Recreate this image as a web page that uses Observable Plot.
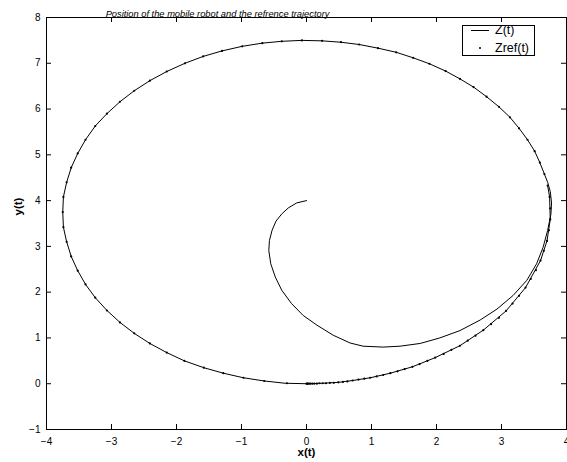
<!DOCTYPE html>
<html><head><meta charset="utf-8">
<script src="https://cdn.jsdelivr.net/npm/d3@7"></script>
<script src="https://cdn.jsdelivr.net/npm/@observablehq/plot@0.6"></script>
<style>
body{margin:0;background:#fff;}
#wrap{position:relative;width:567px;height:462px;font-family:"Liberation Sans",Arial,Helvetica,sans-serif;}
#legend{position:absolute;left:462px;top:25px;width:71px;height:29px;border:1px solid #000;background:#fff;font-size:12.5px;color:#000;}
#legend .txt{position:absolute;left:32px;line-height:14px;white-space:nowrap;}
#legend .ln{position:absolute;left:8px;width:18px;height:1px;background:#000;}
#legend .dt{position:absolute;width:2px;height:2px;border-radius:1px;background:#000;}
</style></head><body><div id="wrap"></div>
<script>
const titleText = "Position of the mobile robot and the refrence trajectory";
const xLabel = "x(t)";
const yLabel = "y(t)";
const legendLabels = ["Z(t)", "Zref(t)"];
const xTicks = [-4, -3, -2, -1, 0, 1, 2, 3, 4];
const yTicks = [-1, 0, 1, 2, 3, 4, 5, 6, 7, 8];

// Z(t): robot position
const robotX = [0.00,-0.15,-0.28,-0.38,-0.47,-0.53,-0.57,-0.58,-0.55,-0.48,-0.38,-0.23,-0.05,0.16,0.41,0.67,0.87,1.18,1.44,1.75,2.05,2.36,2.67,2.93,3.18,3.39,3.54,3.64,3.71,3.76,3.77,3.75,3.71,
  3.66,3.59,3.51,3.40,3.27,3.13,2.96,2.77,2.57,2.36,2.14,1.89,1.64,1.38,1.10,0.81,0.53,0.24,-0.07,-0.38,-0.68,-0.99,-1.30,-1.59,-1.87,-2.15,-2.41,-2.65,-2.87,-3.07,-3.25,-3.40,-3.52,-3.62,-3.69,-3.74,-3.75,-3.74,-3.69,-3.62,-3.52,-3.40,-3.25,-3.07,-2.87,-2.65,-2.41,-2.15,-1.88,-1.58,-1.28,-0.97,-0.65,-0.33,0.00,
  0.25,0.49,0.71,0.98,1.29,1.63,1.98,2.36,2.72,3.07,3.37,3.60,3.70,3.75,3.74,3.71];
const robotY = [4.00,3.95,3.84,3.71,3.55,3.35,3.13,2.91,2.62,2.33,2.04,1.75,1.49,1.28,1.06,0.89,0.82,0.80,0.82,0.88,1.00,1.16,1.39,1.63,1.93,2.26,2.62,2.98,3.35,3.70,3.95,4.20,4.40,
  4.58,4.83,5.08,5.33,5.58,5.82,6.05,6.27,6.48,6.66,6.83,6.99,7.12,7.24,7.33,7.41,7.46,7.49,7.50,7.48,7.44,7.37,7.27,7.15,7.00,6.82,6.62,6.40,6.16,5.90,5.63,5.33,5.03,4.72,4.40,4.08,3.75,3.42,3.10,2.78,2.47,2.17,1.88,1.60,1.34,1.10,0.88,0.68,0.50,0.35,0.23,0.13,0.06,0.01,0.00,
  0.01,0.03,0.07,0.13,0.23,0.37,0.57,0.83,1.17,1.59,2.10,2.69,3.12,3.59,4.08,4.33];

// Zref(t): reference trajectory samples
const refX = [0.00,0.01,0.02,0.04,0.06,0.09,0.12,0.16,0.20,0.25,0.30,0.36,0.42,0.49,0.56,0.63,0.71,0.80,0.89,0.98,1.08,1.18,1.29,1.40,1.51,1.63,1.74,1.86,1.98,2.11,2.23,2.36,2.48,2.60,2.72,2.84,2.96,3.07,3.17,3.27,3.37,3.45,3.53,3.60,3.65,3.70,3.73,3.75,3.75,3.74,3.71,3.66,3.59,3.51,3.40,3.27,3.13,2.96,2.77,2.57,
  2.36,2.14,1.89,1.64,1.38,1.10,0.81,0.53,0.24,-0.07,-0.38,-0.68,-0.99,-1.30,-1.59,-1.87,-2.15,-2.41,-2.65,-2.87,-3.07,-3.25,-3.40,-3.52,-3.62,-3.69,-3.74,-3.75,-3.74,-3.69,-3.62,-3.52,-3.40,-3.25,-3.07,-2.87,-2.65,-2.41,-2.15,-1.88,-1.58,-1.28,-0.97,-0.65,-0.30];
const refY = [0.00,0.00,0.00,0.00,0.00,0.00,0.00,0.00,0.01,0.01,0.01,0.02,0.02,0.03,0.04,0.05,0.07,0.09,0.11,0.13,0.16,0.19,0.23,0.27,0.32,0.37,0.43,0.50,0.57,0.65,0.74,0.83,0.94,1.05,1.17,1.30,1.44,1.59,1.75,1.92,2.10,2.29,2.48,2.69,2.90,3.12,3.35,3.59,3.83,4.08,4.33,4.58,4.83,5.08,5.33,5.58,5.82,6.05,6.27,6.48,
  6.66,6.83,6.99,7.12,7.24,7.33,7.41,7.46,7.49,7.50,7.48,7.44,7.37,7.27,7.15,7.00,6.82,6.62,6.40,6.16,5.90,5.63,5.33,5.03,4.72,4.40,4.08,3.75,3.42,3.10,2.78,2.47,2.17,1.88,1.60,1.34,1.10,0.88,0.68,0.50,0.35,0.23,0.13,0.06,0.01];

const robot = robotX.map((x, i) => ({x, y: robotY[i]}));
const ref = refX.map((x, i) => ({x, y: refY[i]}));

const W = 567, H = 462, mL = 46, mR = 1, mT = 17, mB = 33;
const plotW = W - mL - mR, plotH = H - mT - mB, tick = 5;

const chart = Plot.plot({
  width: W, height: H,
  marginLeft: mL, marginRight: mR, marginTop: mT, marginBottom: mB,
  style: {fontFamily: '"Liberation Sans", Arial, Helvetica, sans-serif', background: "#fff", color: "#000", overflow: "visible"},
  x: {domain: [-4, 4]},
  y: {domain: [-1, 8]},
  marks: [
    Plot.line(robot, {x: "x", y: "y", stroke: "#000", strokeWidth: 1}),
    Plot.dot(ref, {x: "x", y: "y", r: 1.1, fill: "#000", stroke: null}),
    Plot.ruleX(xTicks, {x: d => d, insetTop: plotH - tick, stroke: "#000"}),
    Plot.ruleX(xTicks, {x: d => d, insetBottom: plotH - tick, stroke: "#000"}),
    Plot.ruleY(yTicks, {y: d => d, insetRight: plotW - tick, stroke: "#000"}),
    Plot.ruleY(yTicks, {y: d => d, insetLeft: plotW - tick, stroke: "#000"}),
    Plot.frame({stroke: "#000", strokeWidth: 1}),
    Plot.axisX(xTicks, {anchor: "bottom", tickSize: 0, tickPadding: 8, fontSize: 10, label: null}),
    Plot.axisY(yTicks, {anchor: "left", tickSize: 0, tickPadding: 6, fontSize: 10, label: null}),
    Plot.text([titleText], {text: d => d, frameAnchor: "top", dx: -89, dy: -7.5, fontSize: 9.3, fontStyle: "italic"}),
    Plot.text([xLabel], {text: d => d, frameAnchor: "bottom", dy: 26, fontSize: 11.5, fontWeight: "bold"}),
    Plot.text([yLabel], {text: d => d, frameAnchor: "left", dx: -28.5, dy: -8, rotate: -90, fontSize: 11.5, fontWeight: "bold"})
  ]
});
const wrap = document.getElementById("wrap");
wrap.appendChild(chart);

const legend = document.createElement("div");
legend.id = "legend";
legend.innerHTML =
  `<div class="ln" style="top:4px"></div><div class="txt" style="top:-3px">${legendLabels[0]}</div>` +
  `<div class="dt" style="left:16px;top:21px"></div><div class="txt" style="top:15px">${legendLabels[1]}</div>`;
wrap.appendChild(legend);
</script>
</body></html>
